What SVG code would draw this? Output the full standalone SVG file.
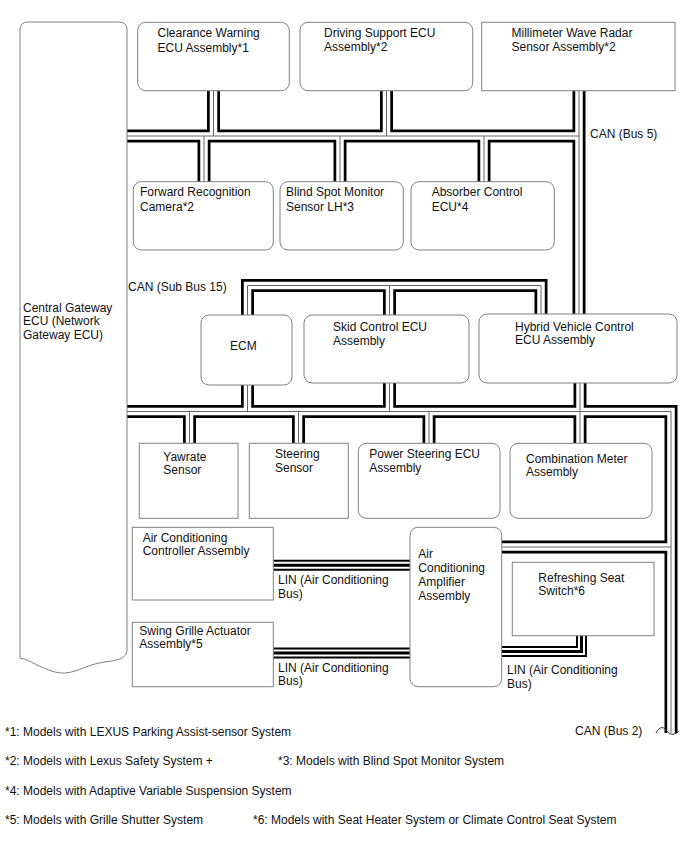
<svg xmlns="http://www.w3.org/2000/svg" xmlns:xlink="http://www.w3.org/1999/xlink" width="688" height="852" viewBox="0 0 688 852">
<style>
  text { font-family: "Liberation Sans", Arial, sans-serif; font-size: 12px; fill: #111; }
  .box { fill: #fff; stroke: #808080; stroke-width: 1; }
  .bk { fill: none; stroke: #000; stroke-width: 13; stroke-linejoin: miter; stroke-linecap: butt; }
  .wh { fill: none; stroke: #fff; stroke-width: 7.5; stroke-linejoin: miter; stroke-linecap: butt; }
  .ct { fill: none; stroke: #666; stroke-width: 1; stroke-linejoin: miter; stroke-linecap: butt; }
  .lbk { fill: none; stroke: #000; stroke-width: 11; stroke-linejoin: miter; stroke-linecap: butt; }
  .lwh { fill: none; stroke: #fff; stroke-width: 7; stroke-linejoin: miter; stroke-linecap: butt; }
  .lct { fill: none; stroke: #000; stroke-width: 3; stroke-linejoin: miter; stroke-linecap: butt; }
  .brk { fill: none; stroke: #333; stroke-width: 1; }
</style>
<defs>
  <path id="bus5" d="M127,136 H579 M579,91 V315 M213.5,91 V136 M386.5,91 V136 M204,136 V182 M340,136 V182 M484,136 V182"/>
  <path id="bus15" d="M247.5,315 V285.5 H541 V315 M389.5,285.5 V315"/>
  <path id="bus2" d="M127,411.5 H671 V733 M247.5,385 V411.5 M389.5,383 V411.5 M580,383 V411.5 M189.5,411.5 V443 M298.5,411.5 V443 M429,411.5 V443 M580,411.5 V443 M501.7,547 H671"/>
  <path id="lin" d="M273.3,565.3 H410 M273.3,653 H410 M501.7,651.5 H581.5 V635.7"/>
</defs>

<rect width="688" height="852" fill="#fff"/>

<g id="connectors">
  <use xlink:href="#bus5" class="bk"/>
  <use xlink:href="#bus15" class="bk"/>
  <use xlink:href="#bus2" class="bk"/>
  <use xlink:href="#lin" class="lbk"/>
  <use xlink:href="#bus5" class="wh"/>
  <use xlink:href="#bus15" class="wh"/>
  <use xlink:href="#bus2" class="wh"/>
  <use xlink:href="#lin" class="lwh"/>
  <use xlink:href="#bus5" class="ct"/>
  <use xlink:href="#bus15" class="ct"/>
  <use xlink:href="#bus2" class="ct"/>
  <use xlink:href="#lin" class="lct"/>
  <path class="brk" d="M656,733 C659,727 663,726 666,730 S673,737 679,731"/>
  <text x="590" y="138">CAN (Bus 5)</text>
  <text x="128" y="291">CAN (Sub Bus 15)</text>
  <text x="278" y="584">LIN (Air Conditioning</text>
  <text x="278" y="597.5">Bus)</text>
  <text x="278" y="672">LIN (Air Conditioning</text>
  <text x="278" y="685">Bus)</text>
  <text x="507" y="674">LIN (Air Conditioning</text>
  <text x="507" y="687.5">Bus)</text>
  <text x="575" y="735">CAN (Bus 2)</text>
</g>

<g id="gateway">
  <path class="box" d="M20,30 Q20,22 28,22 H119 Q127,22 127,30 V652 C124,662 110,660 95,664 C80,668 70,676 55,672 C40,668 30,660 20,658 Z"/>
  <text x="23" y="311.5">Central Gateway</text>
  <text x="23" y="325">ECU (Network</text>
  <text x="23" y="338.5">Gateway ECU)</text>
</g>

<g id="clearance">
  <rect class="box" x="137.7" y="22.3" width="151.6" height="68.4" rx="8"/>
  <text x="157.5" y="37">Clearance Warning</text>
  <text x="157.5" y="51.5">ECU Assembly*1</text>
</g>
<g id="driving">
  <rect class="box" x="300" y="22.3" width="172.7" height="68.4" rx="8"/>
  <text x="324" y="37">Driving Support ECU</text>
  <text x="324" y="51">Assembly*2</text>
</g>
<g id="millimeter">
  <rect class="box" x="481.7" y="22.3" width="193.3" height="68.4"/>
  <text x="511.5" y="36.7">Millimeter Wave Radar</text>
  <text x="511.5" y="50.5">Sensor Assembly*2</text>
</g>

<g id="forward">
  <rect class="box" x="133.3" y="181.7" width="140" height="68.3" rx="8"/>
  <text x="140" y="196">Forward Recognition</text>
  <text x="140" y="210.7">Camera*2</text>
</g>
<g id="blindspot">
  <rect class="box" x="280" y="181.7" width="123.3" height="68.3" rx="8"/>
  <text x="286" y="196">Blind Spot Monitor</text>
  <text x="286" y="210.7">Sensor LH*3</text>
</g>
<g id="absorber">
  <rect class="box" x="411" y="181.7" width="143.3" height="68.3" rx="8"/>
  <text x="431.7" y="196">Absorber Control</text>
  <text x="431.7" y="210.7">ECU*4</text>
</g>

<g id="ecm">
  <rect class="box" x="201" y="315" width="91" height="70" rx="8"/>
  <text x="230" y="350">ECM</text>
</g>
<g id="skid">
  <rect class="box" x="304" y="315" width="165" height="68" rx="8"/>
  <text x="333" y="331">Skid Control ECU</text>
  <text x="333" y="344.5">Assembly</text>
</g>
<g id="hybrid">
  <rect class="box" x="479" y="314" width="198" height="69" rx="8"/>
  <text x="515" y="330.5">Hybrid Vehicle Control</text>
  <text x="515" y="344">ECU Assembly</text>
</g>

<g id="yawrate">
  <rect class="box" x="139.3" y="443.3" width="98.7" height="75"/>
  <text x="163.3" y="460.7">Yawrate</text>
  <text x="163.3" y="474">Sensor</text>
</g>
<g id="steering">
  <rect class="box" x="249.3" y="443.3" width="99" height="75"/>
  <text x="275" y="458.3">Steering</text>
  <text x="275" y="471.7">Sensor</text>
</g>
<g id="powersteering">
  <rect class="box" x="358.3" y="443.3" width="141.7" height="75" rx="8"/>
  <text x="369.3" y="458.3">Power Steering ECU</text>
  <text x="369.3" y="471.7">Assembly</text>
</g>
<g id="combination">
  <rect class="box" x="510" y="443.3" width="142" height="75" rx="8"/>
  <text x="526" y="462.7">Combination Meter</text>
  <text x="526" y="476">Assembly</text>
</g>

<g id="accontroller">
  <rect class="box" x="132.3" y="527.3" width="141" height="72.7"/>
  <text x="142.7" y="541.7">Air Conditioning</text>
  <text x="142.7" y="555">Controller Assembly</text>
</g>
<g id="swinggrille">
  <rect class="box" x="132.3" y="622.3" width="141" height="64.4"/>
  <text x="139.3" y="635">Swing Grille Actuator</text>
  <text x="139.3" y="648.3">Assembly*5</text>
</g>
<g id="amplifier">
  <rect class="box" x="410" y="527.3" width="91.7" height="159.4" rx="8"/>
  <text x="418.3" y="558">Air</text>
  <text x="418.3" y="572">Conditioning</text>
  <text x="418.3" y="586">Amplifier</text>
  <text x="418.3" y="600">Assembly</text>
</g>
<g id="refreshing">
  <rect class="box" x="512.3" y="562.3" width="141.7" height="73.4"/>
  <text x="538.3" y="581.7">Refreshing Seat</text>
  <text x="538.3" y="595">Switch*6</text>
</g>

<g id="footnotes">
  <text x="5" y="736">*1: Models with LEXUS Parking Assist-sensor System</text>
  <text x="5" y="765">*2: Models with Lexus Safety System +</text>
  <text x="278" y="765">*3: Models with Blind Spot Monitor System</text>
  <text x="5" y="794.5">*4: Models with Adaptive Variable Suspension System</text>
  <text x="5" y="823.5">*5: Models with Grille Shutter System</text>
  <text x="253" y="823.5">*6: Models with Seat Heater System or Climate Control Seat System</text>
</g>
</svg>
